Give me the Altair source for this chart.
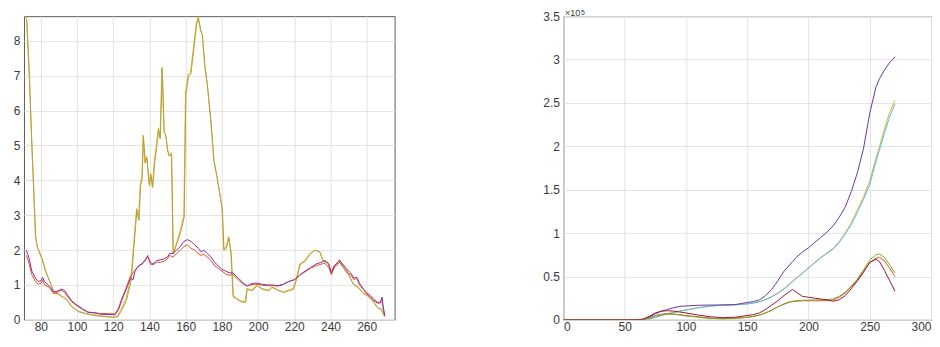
import altair as alt
import pandas as pd

# ---------------- Left panel data ----------------
xA = [72, 73.6, 74.9, 75.8, 77, 78, 80.4, 82.6, 85, 86.8,
      89.5, 94, 96.8, 100.5, 105, 112.4, 119.7, 122.4, 124.3, 127,
      129.8, 131, 132.9, 134, 134.9, 135.8, 136.5, 137.5, 138.4, 139.8,
      140.7, 141.6, 142.6, 143.8, 144.9, 145.8, 146.9, 148, 149, 149.9,
      150.8, 152.1, 153, 154.4, 157.2, 159, 159.9, 161.4, 162.7, 164.5,
      165.8, 166.9, 168.2, 169.1, 170.5, 171.8, 173.7, 175.5, 177.3, 179.2,
      180.1, 181, 182.3, 183.7, 185, 186.1, 187.4, 190.1, 192.9, 193.8,
      196.5, 199.3, 202, 205.7, 207.5, 210.2, 213.9, 216.6, 219.4, 221.2,
      223, 225.8, 228.5, 231.3, 234, 235.8, 238.6, 240.4, 242.2, 245,
      247.7, 249.6, 252.3, 255, 257.8, 260, 263.3, 266, 267.9, 269.7]
yA = [8.7, 7.0, 5.2, 4.0, 2.4, 2.1, 1.8, 1.4, 1.1, 0.85,
      0.75, 0.6, 0.4, 0.25, 0.18, 0.12, 0.08, 0.12, 0.3, 0.6,
      1.2, 2.0, 3.2, 2.9, 3.9, 4.1, 5.3, 4.5, 4.7, 3.9,
      4.2, 3.8, 4.5, 5.0, 5.5, 5.2, 7.25, 5.4, 5.3, 4.9,
      4.7, 4.8, 1.9, 2.1, 2.6, 3.0, 6.5, 7.05, 7.1, 7.9,
      8.5, 8.7, 8.3, 8.2, 7.3, 6.8, 5.8, 4.6, 4.1, 3.5,
      3.2, 2.0, 2.1, 2.4, 1.9, 0.7, 0.65, 0.55, 0.52, 0.9,
      0.85, 1.0, 0.9, 0.85, 0.95, 0.88, 0.8, 0.85, 0.9, 1.2,
      1.6, 1.7, 1.9, 2.0, 1.95, 1.7, 1.65, 1.35, 1.55, 1.7,
      1.55, 1.35, 1.05, 0.95, 0.78, 0.72, 0.55, 0.35, 0.32, 0.12]

xD = [72.3, 73.8, 75, 76, 77.2, 78.3, 80.6, 83, 85.3, 87,
      90, 94.3, 97, 101, 106, 113, 120, 122.6, 124.6, 127.3,
      130, 131.2, 133.1, 134.2, 135.1, 136, 136.7, 137.7, 138.6, 140,
      140.9, 141.8, 142.8, 144, 145.1, 146, 147.1, 148.2, 149.2, 150.1,
      151, 152.3, 153.2, 154.6, 157.4, 159.2, 160.1, 161.6, 162.9, 164.7,
      166, 167.1, 168.4, 169.3, 170.7, 172, 173.9, 175.7, 177.5, 179.4,
      180.3, 181.2, 182.5, 183.9, 185.2, 186.3, 187.6, 190.3, 193.1, 194,
      196.7, 199.5, 202.2, 205.9, 207.7, 210.4, 214.1, 216.8, 219.6, 221.4,
      223.2, 226, 228.7, 231.5, 234.2, 236, 238.8, 240.6, 242.4, 245.2,
      247.9, 249.8, 252.5, 255.2, 258, 260.2, 263.5, 266.2, 268, 269.9]
yD = [8.6, 6.9, 5.1, 3.9, 2.35, 2.05, 1.75, 1.35, 1.05, 0.8,
      0.72, 0.58, 0.38, 0.23, 0.16, 0.1, 0.07, 0.1, 0.27, 0.55,
      1.15, 1.95, 3.15, 2.85, 3.85, 4.05, 5.25, 4.5, 4.65, 3.85,
      4.15, 3.8, 4.45, 4.95, 5.45, 5.2, 7.2, 5.4, 5.25, 4.85,
      4.7, 4.75, 1.9, 2.1, 2.55, 2.95, 6.45, 7.0, 7.05, 7.85,
      8.45, 8.65, 8.3, 8.15, 7.25, 6.75, 5.75, 4.55, 4.05, 3.45,
      3.15, 2.0, 2.05, 2.35, 1.9, 0.65, 0.62, 0.52, 0.5, 0.88,
      0.83, 0.98, 0.88, 0.83, 0.93, 0.86, 0.78, 0.83, 0.88, 1.18,
      1.58, 1.68, 1.88, 2.0, 1.95, 1.68, 1.63, 1.33, 1.53, 1.68,
      1.53, 1.33, 1.03, 0.93, 0.76, 0.7, 0.53, 0.33, 0.3, 0.1]

xB = [72, 73.6, 75, 77, 78.5, 80, 81, 82, 84, 85.5,
      87, 89, 91, 93, 95, 97, 100, 103, 106, 110,
      113, 117, 121, 123, 125, 127, 129.5, 131, 132, 134,
      136, 138, 139, 140.5, 142, 144, 146, 148, 150, 151,
      153, 155, 157, 159, 161, 163, 165, 167, 168.5, 170,
      172, 174, 176, 178, 180, 182, 184, 186, 188, 190,
      192, 194, 196, 198, 200, 202, 205, 208, 211, 214,
      217, 220, 223, 226, 229, 232, 235, 237, 239, 240.5,
      242, 244, 245, 247, 249, 251, 253, 254.5, 256, 258,
      260, 262, 264, 266, 267.5, 268.5, 269, 270]
yB = [2.0, 1.75, 1.4, 1.2, 1.1, 1.12, 1.22, 1.1, 1.0, 0.92,
      0.8, 0.82, 0.88, 0.85, 0.7, 0.55, 0.42, 0.32, 0.22, 0.2,
      0.16, 0.15, 0.15, 0.3, 0.6, 0.85, 1.2, 1.15, 1.4, 1.55,
      1.6, 1.75, 1.82, 1.65, 1.6, 1.7, 1.72, 1.75, 1.8, 1.9,
      1.9, 2.0, 2.1, 2.25, 2.3, 2.25, 2.15, 2.05, 1.95, 2.0,
      1.9, 1.8, 1.65, 1.55, 1.45, 1.4, 1.35, 1.35, 1.25, 1.15,
      1.05, 0.97, 1.03, 1.05, 1.05, 1.02, 1.0, 1.0, 0.98, 1.02,
      1.1, 1.15, 1.28, 1.4, 1.5, 1.6, 1.65, 1.7, 1.6, 1.35,
      1.55, 1.65, 1.72, 1.55, 1.45, 1.35, 1.2, 1.22, 1.05, 0.9,
      0.78, 0.7, 0.58, 0.5, 0.5, 0.65, 0.4, 0.12]
yC = [1.85, 1.6, 1.3, 1.1, 1.02, 1.05, 1.15, 1.0, 0.95, 0.88,
      0.75, 0.78, 0.85, 0.8, 0.65, 0.52, 0.4, 0.3, 0.22, 0.2,
      0.18, 0.18, 0.17, 0.35, 0.65, 0.9, 1.25, 1.35, 1.42, 1.55,
      1.62, 1.72, 1.85, 1.6, 1.58, 1.65, 1.65, 1.68, 1.75, 1.85,
      1.8, 1.9, 2.0, 2.1, 2.15, 2.05, 2.0, 1.9, 1.85, 1.88,
      1.8, 1.7, 1.55, 1.48, 1.4, 1.32, 1.28, 1.3, 1.2, 1.1,
      1.02, 0.97, 1.0, 1.02, 1.02, 1.0, 0.98, 0.98, 0.97, 1.02,
      1.1, 1.15, 1.28, 1.38, 1.48, 1.55, 1.6, 1.62, 1.5, 1.3,
      1.5, 1.6, 1.65, 1.5, 1.35, 1.3, 1.15, 1.2, 1.0, 0.88,
      0.75, 0.65, 0.55, 0.48, 0.48, 0.6, 0.35, 0.1]

left_names = ["1_orange", "2_olive", "3_red", "4_purple"]
left_colors = ["#EDB120", "#ABA248", "#E8501E", "#8E2F9E"]

# ---------------- Right panel data (units of 1e5) ----------------
xR = [0, 20, 40, 60, 65, 70, 75, 80, 85, 90,
      95, 100, 110, 120, 130, 140, 150, 155, 160, 165,
      170, 175, 180, 185, 187, 190, 195, 200, 205, 210,
      215, 220, 225, 230, 235, 240, 245, 250, 255, 258,
      262, 266, 270.6]
r_purple = [0, 0, 0, 0, 0.005, 0.03, 0.07, 0.1, 0.12, 0.14,
            0.155, 0.16, 0.168, 0.17, 0.172, 0.175, 0.2, 0.21, 0.23, 0.28,
            0.35, 0.45, 0.56, 0.64, 0.67, 0.72, 0.78, 0.83, 0.89, 0.95,
            1.01, 1.08, 1.18, 1.30, 1.48, 1.70, 1.98, 2.38, 2.68, 2.78,
            2.88, 2.96, 3.03]
r_orange = [0, 0, 0, 0, 0.002, 0.01, 0.03, 0.05, 0.07, 0.085,
            0.1, 0.115, 0.14, 0.16, 0.17, 0.175, 0.185, 0.195, 0.21, 0.235,
            0.27, 0.31, 0.36, 0.42, 0.445, 0.48, 0.54, 0.6, 0.66, 0.72,
            0.77, 0.82, 0.9, 1.0, 1.12, 1.27, 1.42, 1.6, 1.86, 2.0,
            2.2, 2.38, 2.53]
r_cyan = [0, 0, 0, 0, 0.002, 0.01, 0.03, 0.05, 0.07, 0.085,
          0.1, 0.113, 0.138, 0.158, 0.168, 0.173, 0.183, 0.193, 0.207, 0.232,
          0.266, 0.306, 0.355, 0.415, 0.44, 0.475, 0.535, 0.595, 0.655, 0.715,
          0.765, 0.815, 0.89, 0.99, 1.1, 1.24, 1.39, 1.56, 1.82, 1.96,
          2.15, 2.33, 2.49]
r_darkred = [0, 0, 0, 0, 0.01, 0.04, 0.08, 0.1, 0.105, 0.1,
             0.09, 0.08, 0.055, 0.035, 0.025, 0.03, 0.05, 0.06, 0.08, 0.12,
             0.17, 0.22, 0.28, 0.33, 0.35, 0.32, 0.27, 0.26, 0.25, 0.24,
             0.23, 0.215, 0.23, 0.28, 0.36, 0.45, 0.55, 0.66, 0.7, 0.67,
             0.57, 0.46, 0.33]
r_orangered = [0, 0, 0, 0, 0.005, 0.02, 0.05, 0.065, 0.07, 0.068,
               0.06, 0.05, 0.035, 0.02, 0.015, 0.02, 0.03, 0.04, 0.055, 0.08,
               0.11, 0.15, 0.18, 0.205, 0.21, 0.215, 0.22, 0.22, 0.22, 0.22,
               0.222, 0.23, 0.26, 0.31, 0.38, 0.46, 0.56, 0.66, 0.71, 0.72,
               0.68, 0.6, 0.5]
r_green = [0, 0, 0, 0, 0.004, 0.02, 0.045, 0.06, 0.065, 0.063,
           0.055, 0.045, 0.03, 0.015, 0.01, 0.015, 0.028, 0.038, 0.055, 0.08,
           0.11, 0.15, 0.185, 0.21, 0.215, 0.22, 0.225, 0.228, 0.23, 0.23,
           0.235, 0.24, 0.27, 0.32, 0.39, 0.47, 0.58, 0.69, 0.75, 0.76,
           0.72, 0.64, 0.54]

right_names = ["r1_orange", "r2_cyan", "r3_purple", "r4_orangered", "r5_green", "r6_darkred"]
right_colors = ["#EDB120", "#4DBEEE", "#6A35A8", "#D95319", "#77AC30", "#A2142F"]

left_x_ticks = [80, 100, 120, 140, 160, 180, 200, 220, 240, 260]
left_y_ticks = [0, 1, 2, 3, 4, 5, 6, 7, 8]
right_x_ticks = [0, 50, 100, 150, 200, 250, 300]
right_y_ticks = [0, 0.5, 1, 1.5, 2, 2.5, 3, 3.5]


def frame(xs, ys, name):
    return pd.DataFrame({"x": xs, "y": ys, "s": name})


left_df = pd.concat([
    frame(xA, yA, left_names[0]),
    frame(xD, yD, left_names[1]),
    frame(xB, yC, left_names[2]),
    frame(xB, yB, left_names[3]),
], ignore_index=True)

right_df = pd.concat([
    frame(xR, r_orange, right_names[0]),
    frame(xR, r_cyan, right_names[1]),
    frame(xR, r_purple, right_names[2]),
    frame(xR, r_orangered, right_names[3]),
    frame(xR, r_green, right_names[4]),
    frame(xR, r_darkred, right_names[5]),
], ignore_index=True)

WL, WR, H = 371, 368, 304
GRID = "#e3e3e3"
LABEL = "#3a3a3a"


def xaxis(vals, flush):
    return alt.Axis(values=vals, title=None, grid=True, ticks=False, domain=False,
                    labelPadding=2, labelFlush=flush, gridColor=GRID, gridWidth=1)


def yaxis(vals, fmt):
    return alt.Axis(values=vals, title=None, grid=True, ticks=False, domain=False,
                    labelPadding=4, labelFlush=False, gridColor=GRID, gridWidth=1, format=fmt)


left = alt.Chart(left_df).mark_line(strokeWidth=1, clip=True).encode(
    x=alt.X("x:Q", scale=alt.Scale(domain=[70.7, 275.4], nice=False, zero=False),
            axis=xaxis(left_x_ticks, False)),
    y=alt.Y("y:Q", scale=alt.Scale(domain=[0, 8.71], nice=False, zero=False),
            axis=yaxis(left_y_ticks, "d")),
    color=alt.Color("s:N", scale=alt.Scale(domain=left_names, range=left_colors), legend=None),
).properties(width=WL, height=H)

right_lines = alt.Chart(right_df).mark_line(strokeWidth=1, clip=True).encode(
    x=alt.X("x:Q", scale=alt.Scale(domain=[0, 300], nice=False, zero=False),
            axis=xaxis(right_x_ticks, True)),
    y=alt.Y("y:Q", scale=alt.Scale(domain=[0, 3.5], nice=False, zero=False),
            axis=yaxis(right_y_ticks, "~g")),
    color=alt.Color("s:N", scale=alt.Scale(domain=right_names, range=right_colors), legend=None),
)

mult = alt.Chart(pd.DataFrame({"t": ["×10"]})).mark_text(
    align="left", baseline="alphabetic", fontSize=9, color=LABEL, font="Liberation Sans"
).encode(x=alt.value(1.5), y=alt.value(-0.5), text="t:N")

expo = alt.Chart(pd.DataFrame({"t": ["5"]})).mark_text(
    align="left", baseline="alphabetic", fontSize=7, color=LABEL, font="Liberation Sans"
).encode(x=alt.value(17.5), y=alt.value(-1.5), text="t:N")

right = alt.layer(right_lines, mult, expo).properties(width=WR, height=H)

chart = alt.hconcat(left, right, spacing=169).resolve_scale(
    color="independent"
).properties(
    padding={"left": 4, "top": 0, "right": 0, "bottom": 0},
    bounds="flush",
).configure_view(
    stroke="#5c5c5c", strokeWidth=1
).configure_axis(
    labelFont="Liberation Sans", labelFontSize=12, labelColor=LABEL
)

chart.save("out.html", embed_options={"renderer": "svg", "actions": False})
